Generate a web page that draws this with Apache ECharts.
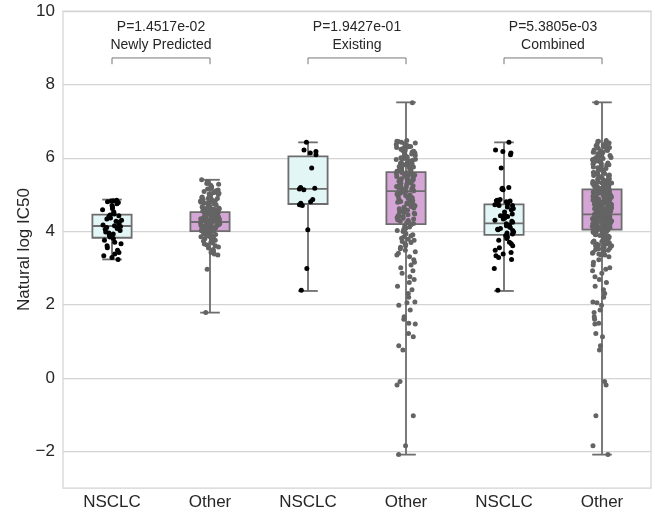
<!DOCTYPE html>
<html>
<head>
<meta charset="utf-8">
<script src="https://cdn.jsdelivr.net/npm/echarts@6/dist/echarts.min.js"></script>
<style>
  html, body { margin: 0; padding: 0; background: #fff; }
  #chart { width: 655px; height: 516px; }
</style>
</head>
<body>
<div id="chart"></div>
<script>
// categories along the x axis (NSCLC / Other, three times)
const categories = ["NSCLC", "Other", "NSCLC", "Other", "NSCLC", "Other"];

// box statistics: whisker low, Q1, median, Q3, whisker high
const boxMin = [3.23, 1.78, 2.37, -2.09, 2.37, -2.09];
const boxQ1 = [3.82, 4.00, 4.74, 4.19, 3.90, 4.04];
const boxMedian = [4.14, 4.25, 5.15, 5.09, 4.21, 4.46];
const boxQ3 = [4.45, 4.52, 6.04, 5.61, 4.73, 5.14];
const boxMax = [4.86, 5.40, 6.42, 7.51, 6.42, 7.51];

// individual points (natural log IC50)
const newlyNsclc = [
  4.84, 4.83, 4.82, 4.80, 4.78, 4.75, 4.70, 4.66, 4.62, 4.58, 4.52, 4.47, 4.44, 4.42, 4.40,
  4.36, 4.33, 4.30, 4.27, 4.24, 4.20, 4.17, 4.15, 4.13, 4.10, 4.07, 4.05, 4.02, 3.98, 3.95,
  3.92, 3.88, 3.84, 3.80, 3.75, 3.70, 3.66, 3.60, 3.55, 3.48, 3.42, 3.38, 3.33, 3.28, 3.23
];
const newlyOther = [
  5.40, 5.35, 5.30, 5.28, 5.25, 5.22, 5.20, 5.18, 5.16, 5.15, 5.12, 5.10, 5.08, 5.06, 5.05,
  5.03, 5.01, 5.00, 4.98, 4.96, 4.95, 4.93, 4.92, 4.90, 4.89, 4.87, 4.86, 4.85, 4.83, 4.82,
  4.80, 4.79, 4.78, 4.76, 4.75, 4.74, 4.72, 4.71, 4.70, 4.69, 4.68, 4.66, 4.65, 4.64, 4.63,
  4.62, 4.61, 4.60, 4.59, 4.58, 4.57, 4.56, 4.55, 4.54, 4.53, 4.52, 4.51, 4.50, 4.50, 4.49,
  4.48, 4.48, 4.47, 4.46, 4.46, 4.45, 4.44, 4.44, 4.43, 4.42, 4.42, 4.41, 4.40, 4.40, 4.39,
  4.38, 4.38, 4.37, 4.36, 4.36, 4.35, 4.34, 4.34, 4.33, 4.32, 4.32, 4.31, 4.30, 4.30, 4.29,
  4.28, 4.28, 4.27, 4.26, 4.26, 4.25, 4.25, 4.24, 4.23, 4.23, 4.22, 4.21, 4.21, 4.20, 4.19,
  4.19, 4.18, 4.17, 4.17, 4.16, 4.15, 4.15, 4.14, 4.13, 4.13, 4.12, 4.11, 4.11, 4.10, 4.09,
  4.09, 4.08, 4.07, 4.07, 4.06, 4.05, 4.05, 4.04, 4.03, 4.03, 4.02, 4.01, 4.01, 4.00, 3.98,
  3.96, 3.95, 3.93, 3.91, 3.90, 3.88, 3.86, 3.85, 3.83, 3.81, 3.79, 3.77, 3.75, 3.73, 3.70,
  3.68, 3.65, 3.62, 3.60, 3.57, 3.54, 3.50, 3.46, 3.42, 3.38, 3.35, 2.96, 1.78
];
const existingNsclc = [
  6.42, 6.21, 6.17, 6.13, 6.08, 5.72, 5.19, 5.17, 5.15, 5.13, 4.86, 4.80, 4.76, 4.72, 4.70,
  4.04, 2.98, 2.39
];
const existingOther = [
  7.50, 6.47, 6.45, 6.44, 6.42, 6.40, 6.38, 6.36, 6.35, 6.33, 6.31, 6.30, 6.28, 6.26, 6.25,
  6.23, 6.21, 6.20, 6.18, 6.16, 6.15, 6.13, 6.11, 6.10, 6.08, 6.06, 6.05, 6.03, 6.01, 6.00,
  5.98, 5.96, 5.95, 5.93, 5.91, 5.90, 5.88, 5.86, 5.85, 5.83, 5.81, 5.80, 5.78, 5.76, 5.75,
  5.73, 5.71, 5.70, 5.68, 5.66, 5.65, 5.63, 5.62, 5.60, 5.59, 5.57, 5.56, 5.55, 5.53, 5.52,
  5.50, 5.49, 5.48, 5.46, 5.45, 5.43, 5.42, 5.41, 5.39, 5.38, 5.36, 5.35, 5.34, 5.32, 5.31,
  5.29, 5.28, 5.27, 5.25, 5.24, 5.22, 5.21, 5.20, 5.18, 5.17, 5.15, 5.14, 5.13, 5.11, 5.10,
  5.09, 5.07, 5.05, 5.03, 5.01, 4.99, 4.97, 4.95, 4.93, 4.91, 4.89, 4.87, 4.85, 4.83, 4.81,
  4.79, 4.77, 4.75, 4.73, 4.71, 4.69, 4.67, 4.65, 4.63, 4.61, 4.59, 4.57, 4.55, 4.53, 4.51,
  4.49, 4.47, 4.45, 4.43, 4.41, 4.39, 4.37, 4.35, 4.33, 4.31, 4.29, 4.27, 4.25, 4.23, 4.21,
  4.20, 4.17, 4.14, 4.11, 4.08, 4.05, 4.02, 3.99, 3.96, 3.93, 3.90, 3.87, 3.84, 3.81, 3.78,
  3.75, 3.72, 3.69, 3.66, 3.63, 3.60, 3.56, 3.52, 3.48, 3.44, 3.40, 3.35, 3.30, 3.22, 3.15,
  3.08, 3.00, 2.92, 2.85, 2.76, 2.68, 2.60, 2.50, 2.40, 2.30, 2.20, 2.07, 2.05, 1.98, 1.85,
  1.67, 1.60, 1.49, 1.47, 1.21, 1.12, 0.88, 0.76, -0.10, -0.19, -1.03, -1.85, -2.09
];

// bracket annotations above each pair
const pValues = ["P=1.4517e-02", "P=1.9427e-01", "P=5.3805e-03"];
const groupNames = ["Newly Predicted", "Existing", "Combined"];

// points for each of the six columns; Combined = Newly Predicted + Existing
const columnPoints = [
  newlyNsclc, newlyOther,
  existingNsclc, existingOther,
  newlyNsclc.concat(existingNsclc), newlyOther.concat(existingOther)
];

// stripplot-style horizontal jitter (deterministic hash, in category units)
function spread(i, col) {
  const h = Math.sin((i + 1) * 12.9898 + (col + 1) * 78.233) * 43758.5453;
  return (h - Math.floor(h) - 0.5) * 0.2;
}

const nsclcPts = [];
const otherPts = [];
columnPoints.forEach((vals, col) => {
  const target = col % 2 === 0 ? nsclcPts : otherPts;
  vals.forEach((v, i) => target.push([col + spread(i, col), v]));
});

const boxRows = categories.map((_, i) => [i, boxMin[i], boxQ1[i], boxMedian[i], boxQ3[i], boxMax[i]]);
const bracketRows = pValues.map((_, k) => [2 * k, 2 * k + 1, k]);

const edge = "#6d6d6d";
const boxFill = ["#e2f6f6", "#d5a6d5"];
const textColor = "#262626";
const fontFamily = "Liberation Sans, Arial, sans-serif";

const chart = echarts.init(document.getElementById("chart"), null, { renderer: "canvas" });

chart.setOption({
  backgroundColor: "#ffffff",
  animation: false,
  grid: {
    left: 63,
    right: 4,
    top: 11,
    bottom: 28,
    show: true,
    borderColor: "#d4d4d4",
    borderWidth: 1.25,
    backgroundColor: "#ffffff",
  },
  xAxis: [
    {
      type: "category",
      data: categories,
      axisLine: { show: false },
      axisTick: { show: false },
      axisLabel: { color: textColor, fontSize: 17, fontFamily, margin: 6 },
      splitLine: { show: false },
    },
    {
      type: "value",
      min: -0.5,
      max: 5.5,
      show: false,
    },
  ],
  yAxis: {
    type: "value",
    min: -3,
    max: 10,
    interval: 1,
    name: "Natural log IC50",
    nameLocation: "middle",
    nameGap: 30,
    nameMoveOverlap: false,
    nameTextStyle: { color: textColor, fontSize: 17, fontFamily },
    axisLine: { show: false },
    axisTick: { show: false },
    axisLabel: {
      color: textColor,
      fontSize: 17,
      fontFamily,
      margin: 8,
      formatter: (v) => (v % 2 === 0 ? (v < 0 ? "\u2212" + -v : String(v)) : ""),
    },
    splitLine: {
      lineStyle: { color: ["rgba(0,0,0,0)", "#d4d4d4"], width: 1.25 },
    },
  },
  series: [
    {
      type: "custom",
      name: "boxes",
      xAxisIndex: 0,
      z: 2,
      data: boxRows,
      encode: { x: 0, y: [1, 2, 3, 4, 5] },
      renderItem: (params, api) => {
        const i = api.value(0);
        const band = api.size([1, 0])[0];
        const w = band * 0.4;
        const cap = w / 2;
        const pMin = api.coord([i, api.value(1)]);
        const pQ1 = api.coord([i, api.value(2)]);
        const pMed = api.coord([i, api.value(3)]);
        const pQ3 = api.coord([i, api.value(4)]);
        const pMax = api.coord([i, api.value(5)]);
        const x = pMin[0];
        const ls = { stroke: edge, lineWidth: 1.8 };
        return {
          type: "group",
          children: [
            { type: "line", shape: { x1: x, y1: pMin[1], x2: x, y2: pQ1[1] }, style: ls },
            { type: "line", shape: { x1: x, y1: pQ3[1], x2: x, y2: pMax[1] }, style: ls },
            { type: "line", shape: { x1: x - cap / 2, y1: pMin[1], x2: x + cap / 2, y2: pMin[1] }, style: ls },
            { type: "line", shape: { x1: x - cap / 2, y1: pMax[1], x2: x + cap / 2, y2: pMax[1] }, style: ls },
            {
              type: "rect",
              shape: { x: x - w / 2, y: pQ3[1], width: w, height: pQ1[1] - pQ3[1] },
              style: { fill: boxFill[i % 2], stroke: edge, lineWidth: 1.8 },
            },
            { type: "line", shape: { x1: x - w / 2, y1: pMed[1], x2: x + w / 2, y2: pMed[1] }, style: ls },
          ],
        };
      },
    },
    {
      type: "scatter",
      name: "Other points",
      xAxisIndex: 1,
      z: 3,
      symbolSize: 5,
      itemStyle: { color: "#646464", opacity: 1 },
      data: otherPts,
      silent: true,
    },
    {
      type: "scatter",
      name: "NSCLC points",
      xAxisIndex: 1,
      z: 4,
      symbolSize: 5,
      itemStyle: { color: "#000000", opacity: 1 },
      data: nsclcPts,
      silent: true,
    },
    {
      type: "custom",
      name: "brackets",
      xAxisIndex: 1,
      z: 5,
      data: bracketRows,
      encode: { x: [0, 1] },
      renderItem: (params, api) => {
        const k = api.value(2);
        const a = api.coord([api.value(0), 8.55]);
        const b = api.coord([api.value(1), 8.72]);
        const mid = (a[0] + b[0]) / 2;
        const pY = api.coord([0, 9.56])[1];
        const gY = api.coord([0, 9.07])[1];
        const ls = { stroke: "#777777", lineWidth: 1, fill: null };
        const ts = { fill: textColor, fontSize: 14, fontFamily, align: "center", verticalAlign: "middle" };
        return {
          type: "group",
          children: [
            {
              type: "polyline",
              shape: { points: [[a[0], a[1]], [a[0], b[1]], [b[0], b[1]], [b[0], a[1]]] },
              style: ls,
            },
            { type: "text", style: Object.assign({ x: mid, y: pY, text: pValues[k] }, ts) },
            { type: "text", style: Object.assign({ x: mid, y: gY, text: groupNames[k] }, ts) },
          ],
        };
      },
    },
  ],
});
</script>
</body>
</html>
